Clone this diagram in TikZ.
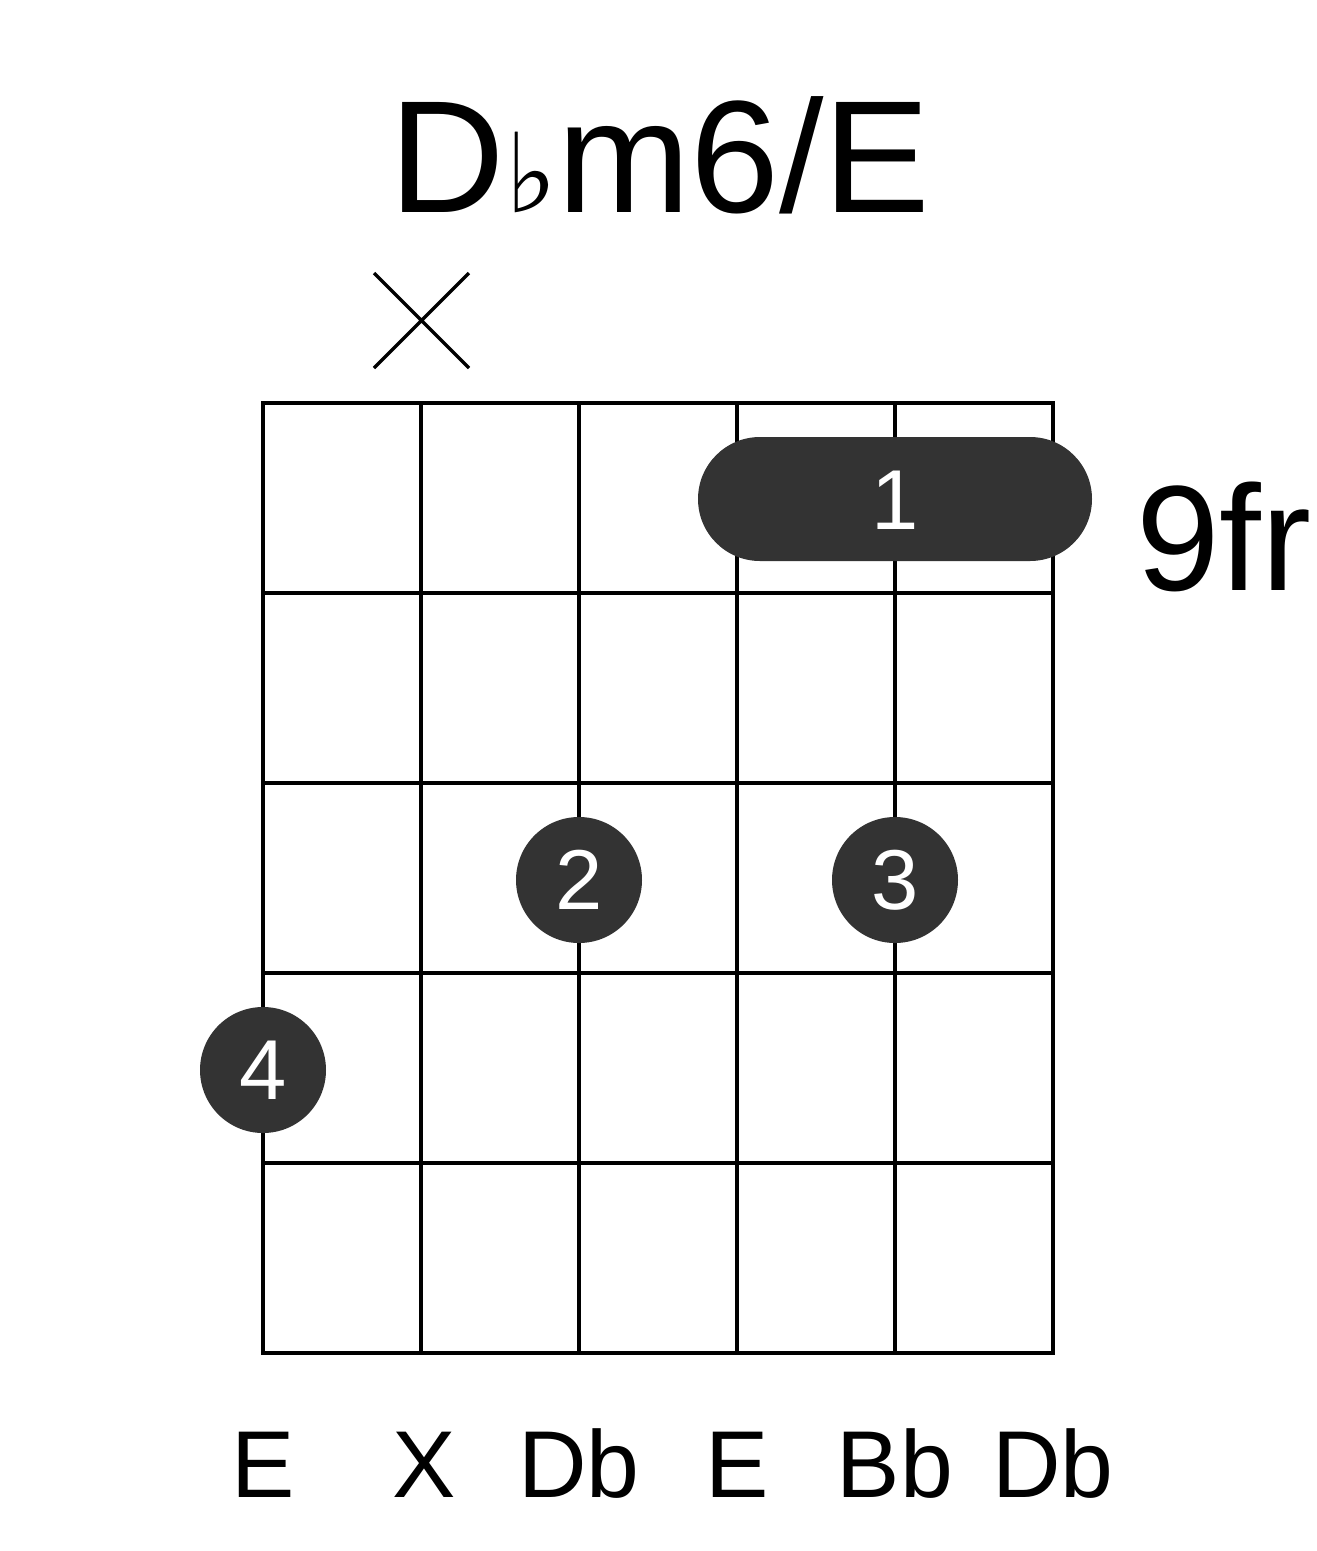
\documentclass[tikz,border=0pt]{standalone}
\usepackage{fontspec}
\setmainfont{Liberation Sans}
\newfontfamily\djfont{DejaVu Sans}
\definecolor{dot}{HTML}{333333}
\begin{document}
\begin{tikzpicture}[x=1pt,y=-1pt,
  gl/.style={line width=4pt,line cap=rect},
  fdot/.style={circle,fill=dot,minimum size=126pt,inner sep=0pt,text=white,font=\fontsize{85}{85}\selectfont},
  lab/.style={font=\fontsize{95}{95}\selectfont,anchor=base}]
\useasboundingbox (0,0) rectangle (1317,1551);
\foreach \x in {263,421,579,737,895,1053} \draw[gl] (\x,403) -- (\x,1353);
\foreach \y in {403,593,783,973,1163,1353} \draw[gl] (263,\y) -- (1053,\y);
\fill[dot,rounded corners=62pt] (698,437) rectangle (1092,561);
\node[text=white,font=\fontsize{85}{85}\selectfont] (b1) at (895,500) {1};
\node[fdot] (d2) at (579,880) {2};
\node[fdot] (d3) at (895,880) {3};
\node[fdot] (d4) at (263,1070) {4};
\coordinate (xa) at (374,273); \coordinate (xb) at (469,368);
\coordinate (xc) at (469,273); \coordinate (xd) at (374,368);
\draw[line width=3.5pt] (xa) -- (xb) (xc) -- (xd);
\node[font=\fontsize{160}{160}\selectfont] (t) at (660,155) {D{\djfont\fontsize{110}{110}\selectfont ♭}m6/E};
\node[font=\fontsize{150}{150}\selectfont,anchor=base west] (fr) at (1133,590) {9fr};
\foreach \x/\t in {263/E,424/X,579/Db,737/E,895/Bb,1053/Db}
  \node[lab] at (\x,1497) {\t};
\end{tikzpicture}
\end{document}
